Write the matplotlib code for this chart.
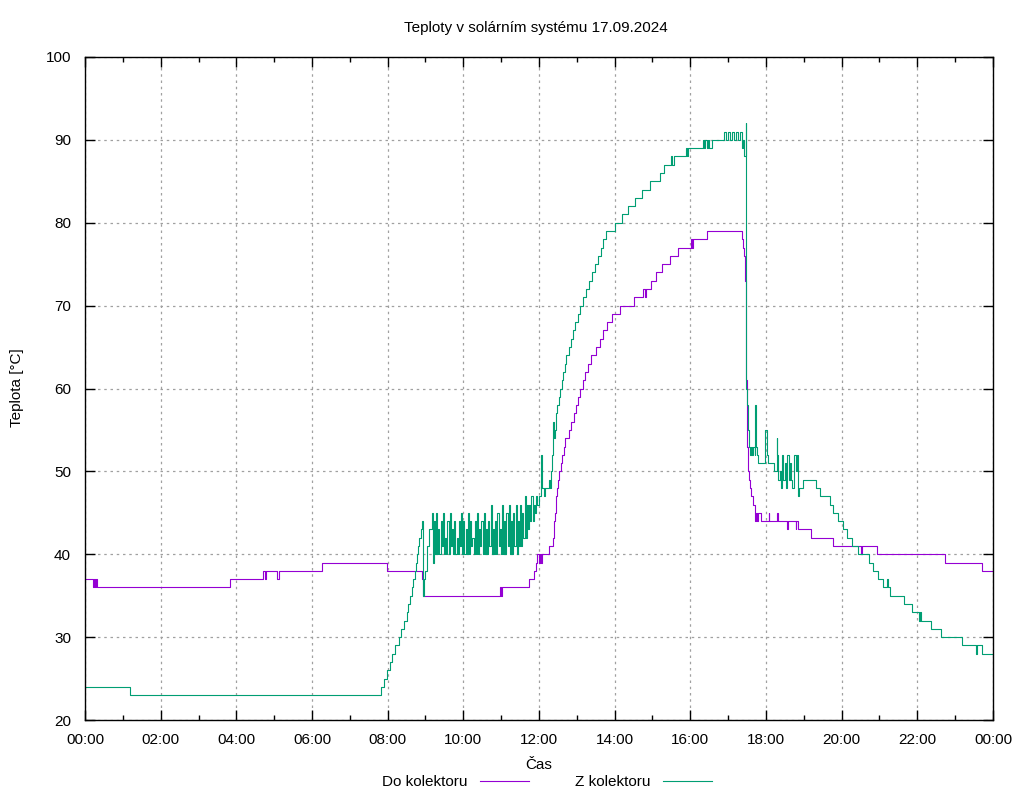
import matplotlib
matplotlib.use("Agg")
import matplotlib.pyplot as plt

plt.rcParams['font.family'] = ['Liberation Sans', 'DejaVu Sans']

title = "Teploty v solárním systému 17.09.2024"
x_label = "Čas"
y_label = "Teplota [°C]"
series_names = ["Do kolektoru", "Z kolektoru"]
x_tick_pos = [0, 2, 4, 6, 8, 10, 12, 14, 16, 18, 20, 22, 24]
x_tick_labels = ["00:00", "02:00", "04:00", "06:00", "08:00", "10:00", "12:00",
                 "14:00", "16:00", "18:00", "20:00", "22:00", "00:00"]
y_ticks = [20, 30, 40, 50, 60, 70, 80, 90, 100]

# (hour, temperature) step points -- "Do kolektoru"
do_kolektoru = [
    (0.00, 37), (0.20, 36), (0.23, 37), (0.27, 36), (0.30, 37), (0.33, 36),
    (3.83, 37), (4.70, 38), (4.76, 37), (4.79, 38), (5.08, 37), (5.12, 38),
    (6.27, 39), (7.98, 38), (8.90, 37), (8.94, 35), (10.97, 36), (11.00, 35),
    (11.03, 36), (11.74, 37), (11.87, 38), (11.92, 39), (11.96, 40), (12.00, 39),
    (12.03, 40), (12.05, 39), (12.08, 40), (12.27, 41), (12.38, 42), (12.39, 43),
    (12.40, 44), (12.42, 45), (12.44, 46), (12.46, 47), (12.48, 48), (12.50, 49),
    (12.54, 50), (12.57, 51), (12.60, 52), (12.65, 53), (12.70, 54), (12.78, 55),
    (12.85, 56), (12.92, 57), (12.97, 58), (13.02, 59), (13.08, 60), (13.15, 61),
    (13.22, 62), (13.30, 63), (13.38, 64), (13.50, 65), (13.60, 66), (13.70, 67),
    (13.80, 68), (13.92, 69), (14.15, 70), (14.50, 71), (14.75, 72), (14.80, 71),
    (14.83, 72), (14.95, 73), (15.10, 74), (15.24, 75), (15.45, 76), (15.68, 77),
    (16.02, 78), (16.04, 77), (16.08, 78), (16.45, 79), (17.36, 78), (17.39, 77),
    (17.42, 76), (17.44, 73), (17.46, 65), (17.47, 61), (17.49, 56), (17.50, 53),
    (17.52, 50), (17.55, 49), (17.58, 48), (17.60, 47), (17.65, 46), (17.70, 45),
    (17.72, 44), (17.74, 45), (17.76, 44), (17.78, 45), (17.88, 44), (18.07, 45),
    (18.09, 44), (18.30, 45), (18.32, 44), (18.56, 43), (18.58, 44), (18.78, 43),
    (18.80, 44), (18.84, 43), (19.20, 42), (19.76, 41), (20.52, 40), (20.54, 41),
    (20.93, 40), (22.73, 39), (23.70, 38), (24.00, 38),
]

# (hour, temperature) step points -- "Z kolektoru"
z_kolektoru_morning = [
    (0.00, 24), (1.19, 23), (7.82, 24), (7.90, 25), (7.98, 26), (8.05, 27),
    (8.12, 28), (8.20, 29), (8.30, 30), (8.36, 31), (8.42, 32), (8.50, 33),
    (8.55, 34), (8.59, 35), (8.63, 36), (8.67, 37), (8.72, 38), (8.75, 39),
    (8.78, 40), (8.81, 41), (8.84, 42), (8.88, 43), (8.90, 44), (8.94, 35),
    (8.97, 37), (9.00, 38), (9.05, 41), (9.10, 43),
]
z_kolektoru_oscillation = [
    (9.16, 45), (9.19, 39), (9.22, 44), (9.25, 40), (9.28, 45), (9.31, 40),
    (9.34, 43), (9.37, 40), (9.40, 44), (9.43, 41), (9.46, 45), (9.49, 40),
    (9.52, 42), (9.55, 40), (9.58, 44), (9.61, 40), (9.64, 45), (9.67, 41),
    (9.70, 43), (9.73, 40), (9.76, 44), (9.79, 40), (9.82, 42), (9.85, 40),
    (9.88, 44), (9.91, 41), (9.94, 45), (9.97, 40), (10.00, 44), (10.03, 40),
    (10.06, 43), (10.09, 40), (10.12, 45), (10.15, 40), (10.18, 44), (10.21, 41),
    (10.24, 42), (10.27, 40), (10.30, 44), (10.33, 40), (10.36, 45), (10.39, 40),
    (10.42, 43), (10.45, 41), (10.48, 44), (10.51, 40), (10.54, 45), (10.57, 40),
    (10.60, 43), (10.63, 40), (10.66, 44), (10.69, 41), (10.72, 46), (10.75, 40),
    (10.78, 43), (10.81, 40), (10.84, 44), (10.87, 40), (10.90, 45), (10.93, 41),
    (10.96, 43), (10.99, 40), (11.02, 46), (11.05, 40), (11.08, 44), (11.11, 40),
    (11.14, 45), (11.17, 41), (11.20, 46), (11.23, 40), (11.26, 44), (11.29, 40),
    (11.32, 45), (11.35, 41), (11.38, 46), (11.41, 40), (11.44, 44), (11.47, 41),
    (11.50, 46), (11.53, 41), (11.56, 45), (11.59, 42), (11.62, 47), (11.65, 42),
    (11.68, 46), (11.71, 43), (11.74, 46), (11.77, 44), (11.80, 47), (11.83, 44),
    (11.86, 46), (11.89, 45), (11.92, 47), (11.95, 46),
]
z_kolektoru_afternoon = [
    (12.00, 47), (12.05, 52), (12.08, 48), (12.12, 47), (12.15, 48), (12.27, 49),
    (12.30, 48), (12.33, 50), (12.35, 52), (12.38, 56), (12.40, 54), (12.42, 55),
    (12.45, 57), (12.48, 58), (12.52, 59), (12.56, 60), (12.60, 61), (12.64, 62),
    (12.68, 63), (12.72, 64), (12.78, 65), (12.84, 66), (12.90, 67), (12.96, 68),
    (13.02, 69), (13.08, 70), (13.16, 71), (13.24, 72), (13.32, 73), (13.40, 74),
    (13.48, 75), (13.56, 76), (13.63, 77), (13.70, 78), (13.77, 79), (14.00, 80),
    (14.20, 81), (14.35, 82), (14.55, 83), (14.72, 84), (14.93, 85), (15.20, 86),
    (15.30, 87), (15.50, 88), (15.52, 87), (15.57, 88), (15.89, 89), (15.91, 88),
    (15.93, 89), (16.33, 90), (16.36, 89), (16.40, 90), (16.43, 89), (16.47, 90),
    (16.50, 89), (16.57, 90), (16.90, 91), (16.95, 90), (17.00, 91), (17.05, 90),
    (17.10, 91), (17.15, 90), (17.20, 91), (17.25, 90), (17.30, 91), (17.36, 89),
    (17.40, 90), (17.43, 88), (17.46, 92), (17.47, 70), (17.48, 60), (17.50, 58),
    (17.52, 55), (17.54, 54), (17.56, 53), (17.58, 52), (17.60, 53), (17.62, 52),
    (17.66, 53), (17.70, 52), (17.72, 58), (17.74, 53), (17.76, 52), (17.80, 51),
    (17.98, 55), (18.02, 52), (18.05, 51), (18.20, 50), (18.28, 54), (18.30, 52),
    (18.33, 49), (18.36, 50), (18.40, 48), (18.43, 52), (18.46, 49), (18.50, 51),
    (18.53, 48), (18.56, 52), (18.60, 49), (18.63, 51), (18.66, 49), (18.70, 48),
    (18.74, 52), (18.78, 50), (18.82, 52), (18.85, 47), (18.88, 48), (18.99, 49),
]
z_kolektoru_evening = [
    (19.33, 48), (19.43, 47), (19.68, 46), (19.78, 45), (19.89, 44), (20.03, 43),
    (20.15, 42), (20.27, 41), (20.42, 40), (20.71, 39), (20.82, 38), (20.97, 37),
    (21.10, 36), (21.20, 37), (21.22, 36), (21.28, 35), (21.66, 34), (21.85, 33),
    (22.05, 32), (22.08, 33), (22.10, 32), (22.36, 31), (22.63, 30), (23.17, 29),
    (23.55, 28), (23.57, 29), (23.70, 28), (24.00, 28),
]
z_kolektoru = (z_kolektoru_morning + z_kolektoru_oscillation
               + z_kolektoru_afternoon + z_kolektoru_evening)

colors = ["#9400D3", "#009E73"]

fig = plt.figure(figsize=(10.24, 8), dpi=100)
ax = fig.add_axes([85 / 1024, 80 / 800, 908 / 1024, 663 / 800])

for data, name, col in zip([do_kolektoru, z_kolektoru], series_names, colors):
    t = [p[0] for p in data]
    v = [p[1] for p in data]
    ax.step(t, v, where='post', color=col, lw=0.8, label=name)

ax.set_xlim(0, 24)
ax.set_ylim(20, 100)
ax.set_xticks(x_tick_pos)
ax.set_xticklabels(x_tick_labels)
ax.set_xticks(list(range(0, 25)), minor=True)
ax.set_yticks(y_ticks)
ax.tick_params(which='major', direction='in', top=True, right=True,
               length=7, width=1, labelsize=11, color='black')
ax.tick_params(axis='x', which='major', pad=9)
ax.tick_params(axis='y', which='major', pad=10)
ax.tick_params(which='minor', direction='in', top=True, length=3.5, width=1)
ax.grid(True, which='major', color='#a0a0a0', linestyle=(0, (2, 3)), lw=0.9)
ax.set_axisbelow(True)
for s in ax.spines.values():
    s.set_linewidth(1)

fig.text(536 / 1024, 1 - 28 / 800, title, ha='center', va='center', fontsize=11)
fig.text(539 / 1024, 1 - 765 / 800, x_label, ha='center', va='center', fontsize=11)
fig.text(17 / 1024, 1 - 388 / 800, y_label, ha='center', va='center',
         rotation=90, fontsize=11)

fig.legend(loc='center', bbox_to_anchor=(547 / 1024, 1 - 782 / 800), ncol=2,
           markerfirst=False, frameon=False, fontsize=11, handlelength=3.2,
           handletextpad=0.8, columnspacing=3.0, borderaxespad=0, borderpad=0)

fig.savefig("out.png", dpi=100)
